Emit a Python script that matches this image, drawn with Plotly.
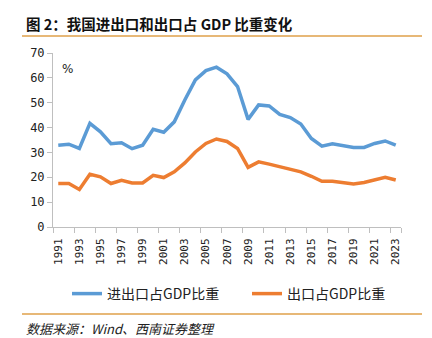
import plotly.graph_objects as go

years = list(range(1991, 2024))
trade_share = [32.9, 33.3, 31.6, 41.7, 38.3, 33.5, 33.9, 31.5, 32.9, 39.3,
               38.1, 42.3, 51.1, 59.2, 62.9, 64.3, 61.6, 56.5, 43.3, 49.1,
               48.7, 45.3, 44.0, 41.4, 35.6, 32.5, 33.5, 32.9, 32.0, 32.0,
               33.6, 34.6, 32.9]
export_share = [17.5, 17.5, 15.1, 21.2, 20.2, 17.5, 18.8, 17.7, 17.7, 20.8,
                19.9, 22.2, 25.8, 30.2, 33.6, 35.4, 34.4, 31.6, 24.0, 26.2,
                25.3, 24.2, 23.3, 22.2, 20.4, 18.4, 18.4, 17.9, 17.3, 17.9,
                18.9, 20.0, 18.9]
series_names = ["进出口占GDP比重", "出口占GDP比重"]
title_text = "图 2：我国进出口和出口占 GDP 比重变化"
source_text = "数据来源：Wind、西南证券整理"
label_years = years[::2]

W, H = 432, 338
L, R, T, B = 53, 31, 53, 111
PW, PH = W - L - R, H - T - B


def px_x(x):
    return (x - L) / PW


def px_y(y):
    return (H - B - y) / PH


fig = go.Figure()
fig.add_trace(go.Scatter(x=years, y=trade_share, mode="lines", name=series_names[0],
                         line=dict(color="#5B9BD5", width=3.5), legend="legend"))
fig.add_trace(go.Scatter(x=years, y=export_share, mode="lines", name=series_names[1],
                         line=dict(color="#ED7D31", width=3.5), legend="legend2"))

rule_color = "#DFA04A"
leg_common = dict(orientation="h", xref="container", yref="container",
                  xanchor="left", yanchor="middle",
                  font=dict(family="Noto Sans CJK SC", size=14, color="#222"),
                  itemwidth=30, bgcolor="rgba(0,0,0,0)")
fig.update_layout(
    width=W, height=H,
    margin=dict(l=L, r=R, t=T, b=B),
    paper_bgcolor="white", plot_bgcolor="white",
    showlegend=True,
    legend=dict(x=67 / W, y=1 - 294 / H, **leg_common),
    legend2=dict(x=247 / W, y=1 - 294 / H, **leg_common),
    xaxis=dict(range=[1990.5, 2023.5], showgrid=False, zeroline=False,
               showline=True, linecolor="#BFBFBF", linewidth=1,
               tickvals=label_years, ticktext=[str(y) for y in label_years],
               tickangle=-90, ticks="outside", ticklen=6, tickcolor="rgba(0,0,0,0)",
               tickfont=dict(family="DejaVu Sans Mono", size=11, color="#222"),
               minor=dict(tickvals=[y - 0.5 for y in label_years] + [2023.5],
                          ticks="outside", ticklen=5, tickcolor="#BFBFBF", showgrid=False)),
    yaxis=dict(range=[0, 70], dtick=10, showgrid=False, zeroline=False,
               showline=True, linecolor="#BFBFBF", linewidth=1,
               ticks="outside", ticklen=5, tickcolor="#BFBFBF",
               tickfont=dict(family="DejaVu Sans Mono", size=12, color="#222")),
    font=dict(family="Noto Sans CJK SC"),
)

fig.add_annotation(x=px_x(24), y=px_y(23), xref="paper", yref="paper",
                   text="<b>" + title_text + "</b>", showarrow=False,
                   xanchor="left", yanchor="middle",
                   font=dict(family="Noto Sans CJK SC", size=14.5, color="#111"))
fig.add_annotation(x=px_x(24), y=px_y(328), xref="paper", yref="paper",
                   text="<i>" + source_text + "</i>", showarrow=False,
                   xanchor="left", yanchor="middle",
                   font=dict(family="Noto Sans CJK SC", size=13, color="#222"))
fig.add_annotation(x=px_x(60), y=px_y(69), xref="paper", yref="paper",
                   text="%", showarrow=False, xanchor="left", yanchor="middle",
                   font=dict(family="DejaVu Sans", size=12, color="#222"))

for yy in (36, 314):
    fig.add_shape(type="line", xref="paper", yref="paper",
                  x0=px_x(22), x1=px_x(422), y0=px_y(yy), y1=px_y(yy),
                  line=dict(color=rule_color, width=1.5))

fig.write_html("out.html")
